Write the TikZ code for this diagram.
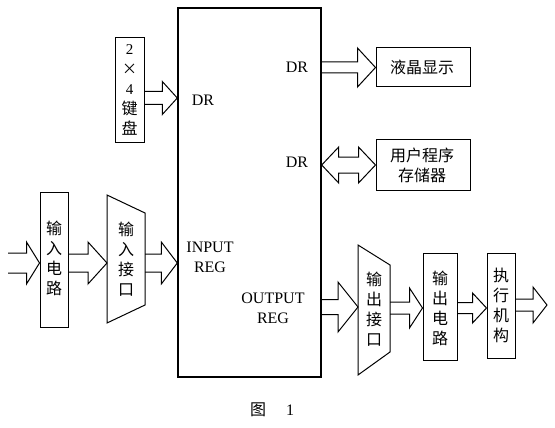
\documentclass[tikz,border=0pt]{standalone}
\usepackage{fontspec}
\setmainfont{Liberation Serif}
\newfontfamily\cjk{Noto Sans CJK SC}
\usetikzlibrary{calc}
\newcommand\fatarrow[6]{%
  \draw[fat] let \p1=(#1), \p2=(#2), \p3=(0,#3) in
    (\x1,\y3+#4pt) -- (\x2-#6pt,\y3+#4pt) -- (\x2-#6pt,\y3+#5pt) -- (\x2,\y3)
    -- (\x2-#6pt,\y3-#5pt) -- (\x2-#6pt,\y3-#4pt) -- (\x1,\y3-#4pt);}
\newcommand\dblarrow[6]{%
  \draw[fat] let \p1=(#1), \p2=(#2), \p3=(0,#3) in
    (\x1,\y3) -- (\x1+#6pt,\y3+#5pt) -- (\x1+#6pt,\y3+#4pt) -- (\x2-#6pt,\y3+#4pt)
    -- (\x2-#6pt,\y3+#5pt) -- (\x2,\y3) -- (\x2-#6pt,\y3-#5pt) -- (\x2-#6pt,\y3-#4pt)
    -- (\x1+#6pt,\y3-#4pt) -- (\x1+#6pt,\y3-#5pt) -- cycle;}
\begin{document}
\begin{tikzpicture}[x=1pt,y=-1pt,
  box/.style={draw, line width=1pt, inner sep=0pt},
  fat/.style={draw, line width=1pt, line join=miter},
  lab/.style={font=\fontsize{16}{20}\selectfont, align=center, inner sep=0pt},
  zh/.style={font={\fontsize{16}{20}\selectfont\cjk}, align=center, inner sep=0pt}]
\useasboundingbox (0,0) rectangle (555,428);

% main block
\node[draw, line width=1.4pt, minimum width=143pt, minimum height=369pt, inner sep=0pt] (main) at (249.5,192.5) {};

% keyboard
\node[box, minimum width=29pt, minimum height=105pt] (kb) at (129.5,90.5) {};
\node[lab, font=\fontsize{15}{20}\selectfont] (kbt) at (129.5,90) {2\\{\cjk ×}\\4\\{\cjk\fontsize{16}{20}\selectfont 键}\\{\cjk\fontsize{16}{20}\selectfont 盘}};
\fatarrow{kb.east}{main.west}{98}{6.5}{16.5}{15}
\node[lab] (dr1) at (203,100) {DR};

% input chain
\coordinate (inL) at (8,263);
\node[box, minimum width=28pt, minimum height=135pt] (inc) at (54,259.5) {};
\node[zh] (inct) at (54,258) {输\\入\\电\\路};
\draw[box] (107,195) -- (145,213) -- (145,305) -- (107,323) -- cycle;
\coordinate (intrapL) at (107,263);
\coordinate (intrapR) at (145,263);
\node[zh] (intrapt) at (126,259) {输\\入\\接\\口};
\fatarrow{inL}{inc.west}{263}{10}{21}{13}
\fatarrow{inc.east}{intrapL}{263}{9}{21}{19}
\fatarrow{intrapR}{main.west}{263}{9}{21}{16}
\node[lab] (inreg) at (210,257.5) {INPUT\\REG};

% LCD
\node[lab] (dr2) at (297,67) {DR};
\node[box, minimum width=94pt, minimum height=39pt] (lcd) at (423,67.5) {};
\node[zh] (lcdt) at (422,67.5) {液晶显示};
\fatarrow{main.east}{lcd.west}{67.5}{5.5}{19.5}{18}

% memory
\node[lab] (dr3) at (297,162) {DR};
\node[box, minimum width=94pt, minimum height=50pt] (mem) at (423,165) {};
\node[zh] (memt) at (422,165) {用户程序\\存储器};
\dblarrow{main.east}{mem.west}{165}{8}{18}{17}

% output chain
\node[lab] (outreg) at (273,308) {OUTPUT\\REG};
\draw[box] (358,245) -- (390,265) -- (390,352) -- (358,375) -- cycle;
\coordinate (otrapL) at (358,307);
\coordinate (otrapR) at (390,308);
\node[zh] (otrapt) at (374,309) {输\\出\\接\\口};
\node[box, minimum width=34pt, minimum height=107pt] (outc) at (440,306.5) {};
\node[zh] (outct) at (440,308) {输\\出\\电\\路};
\node[box, minimum width=28pt, minimum height=105pt] (act) at (501,305.5) {};
\node[zh] (actt) at (501,305) {执\\行\\机\\构};
\coordinate (outR) at (547,305);
\fatarrow{main.east}{otrapL}{307}{7.5}{25}{20}
\fatarrow{otrapR}{outc.west}{308}{6}{20}{13}
\fatarrow{outc.east}{act.west}{308}{5.5}{15}{14}
\fatarrow{act.east}{outR}{305}{6}{18}{14}

% caption
\node[zh] (cap1) at (258,410) {图};
\node[lab] (cap2) at (290,410) {1};
\end{tikzpicture}
\end{document}
